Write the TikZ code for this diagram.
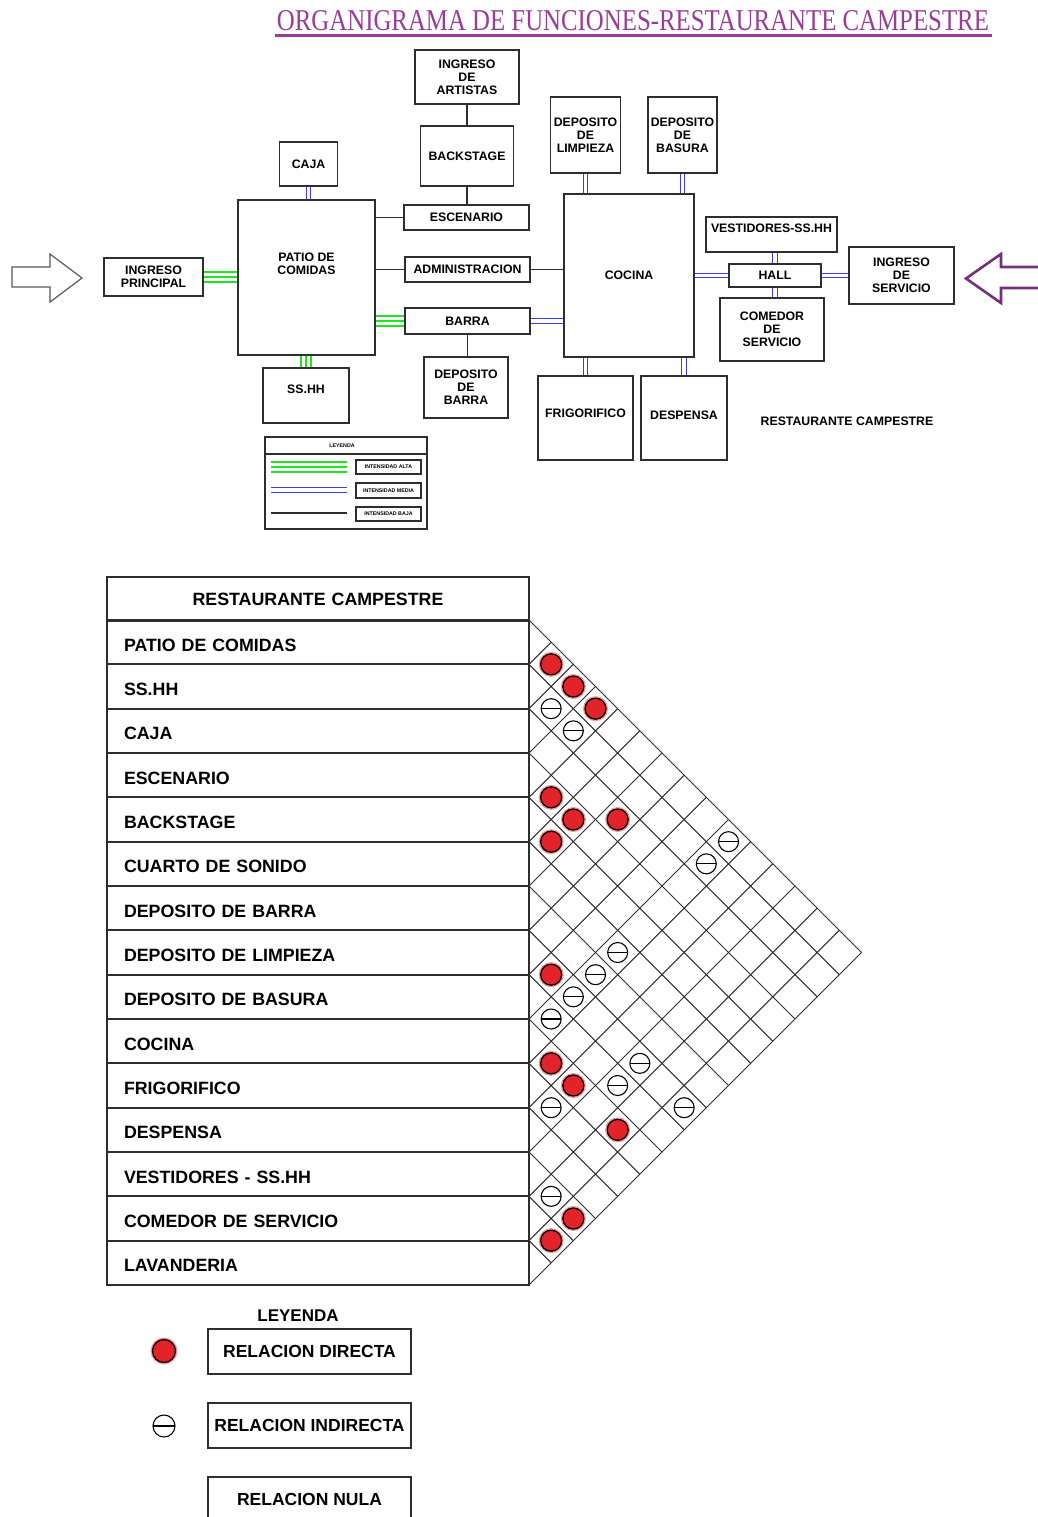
\documentclass[tikz,border=0pt]{standalone}
\usepackage{graphicx}
\usepackage{fontspec}
\setmainfont{Liberation Sans}
\newfontfamily\titlefont{Liberation Serif}
\usetikzlibrary{calc}
\definecolor{orgpurple}{HTML}{9B3A97}
\definecolor{orgarrow}{HTML}{74307A}
\definecolor{orggreen}{HTML}{1EE61E}
\definecolor{orgblue}{HTML}{3B3BFF}
\definecolor{orgred}{HTML}{E3232A}
\definecolor{orgline}{HTML}{2E2E2E}

\begin{document}
\begin{tikzpicture}[x=1pt, y=-1pt,
    room/.style={draw=orgline, line width=1.4pt, align=center, inner sep=0pt,
                 font=\bfseries\fontsize{12.3}{13}\selectfont},
    note/.style={inner sep=0pt, font=\bfseries\fontsize{12.3}{13}\selectfont},
    baja/.style={draw=orgline, line width=1.2pt},
    media/.style={draw=orgblue, line width=1.1pt, double=white, double distance=3.2pt},
    alta/.style={draw=orggreen, line width=1.7pt, double=white, double distance=8.2pt,
                 postaction={draw=orggreen, line width=1.7pt}},
    tiny/.style={draw=orgline, line width=1.1pt, minimum width=65pt, minimum height=14pt,
                 inner sep=0pt, font=\bfseries\fontsize{5.3}{6}\selectfont},
    fila/.style={draw=orgline, line width=1.8pt, minimum width=422pt, minimum height=44.33pt,
                 text width=388pt, align=left, font=\bfseries\fontsize{17.8}{19}\selectfont},
    rel/.style={draw=orgline, line width=1.6pt, minimum width=203pt, minimum height=45pt,
                font=\bfseries\fontsize{17.5}{19}\selectfont},
    grilla/.style={draw=orgline, line width=1pt},
    directa/.style={circle, fill=orgred, draw=black, line width=1.3pt, minimum size=21pt,
                    inner sep=0pt, preaction={draw=orgred!45, line width=4pt}},
    indirecta/.style={circle, fill=white, draw=black, line width=1.1pt, minimum size=20pt,
                      inner sep=0pt, path picture={\draw[line width=1.1pt]
                      (path picture bounding box.west) -- (path picture bounding box.east);}}
  ]
    \clip (0,0) rectangle (1038,1517);

    % titulo
    \node[text=orgpurple, inner sep=0pt] (titulo) at (633,21)
      {\resizebox{712pt}{20pt}{\titlefont ORGANIGRAMA DE FUNCIONES-RESTAURANTE CAMPESTRE}};
    \draw[orgpurple, line width=3pt] ([xshift=-2pt,yshift=-4pt]titulo.south west)
      -- ([xshift=3pt,yshift=-4pt]titulo.south east);

    % organigrama
    \node[room, minimum width=104pt, minimum height=54pt] (artistas)  at (467,77)    {INGRESO\\DE\\ARTISTAS};
    \node[room, minimum width=93pt,  minimum height=60pt] (backstage) at (467,156)   {BACKSTAGE};
    \node[room, minimum width=58pt,  minimum height=44pt] (caja)      at (308.5,164) {CAJA};
    \node[room, minimum width=137pt, minimum height=155pt, text depth=28pt] (patio) at (306.5,277.5) {PATIO DE\\COMIDAS};
    \node[room, minimum width=125pt, minimum height=25pt] (escenario) at (466.5,217.5) {ESCENARIO};
    \node[room, minimum width=125pt, minimum height=25pt] (admin)     at (467.5,269.5) {ADMINISTRACION};
    \node[room, minimum width=125pt, minimum height=26pt] (barra)     at (467.5,321)   {BARRA};
    \node[room, minimum width=84pt,  minimum height=61pt] (depbarra)  at (466,387.5)   {DEPOSITO\\DE\\BARRA};
    \node[room, minimum width=86pt,  minimum height=55pt, text depth=12pt] (sshh) at (306,395.5) {SS.HH};
    \node[room, minimum width=99pt,  minimum height=38pt] (principal) at (153.5,277)   {INGRESO\\PRINCIPAL};
    \node[room, minimum width=130pt, minimum height=163pt] (cocina)   at (629,275.5)   {COCINA};
    \node[room, minimum width=70pt,  minimum height=76pt] (limpieza)  at (585.5,135)   {DEPOSITO\\DE\\LIMPIEZA};
    \node[room, minimum width=69pt,  minimum height=76pt] (basura)    at (682.5,135)   {DEPOSITO\\DE\\BASURA};
    \node[room, minimum width=131pt, minimum height=35pt, text depth=12pt] (vest) at (771.5,234.5) {VESTIDORES-SS.HH};
    \node[room, minimum width=92pt,  minimum height=23pt] (hall)      at (775,275.5)   {HALL};
    \node[room, minimum width=104pt, minimum height=63pt] (comedor)   at (772,329.5)   {COMEDOR\\DE\\SERVICIO};
    \node[room, minimum width=105pt, minimum height=57pt] (servicio)  at (901.5,275.5) {INGRESO\\DE\\SERVICIO};
    \node[room, minimum width=95pt,  minimum height=84pt, text depth=10pt] (frigo) at (585.5,418) {FRIGORIFICO};
    \node[room, minimum width=86pt,  minimum height=84pt, text depth=6pt] (despensa) at (684,418) {DESPENSA};
    \node[note] (rotulo) at (847,421) {RESTAURANTE CAMPESTRE};

    \draw[media] (caja.south) -- (caja.south |- patio.north);
    \draw[alta]  (principal.east) -- (principal.east -| patio.west);
    \draw[alta]  (sshh.north |- patio.south) -- (sshh.north);
    \draw[baja]  (escenario.west -| patio.east) -- (escenario.west);
    \draw[baja]  (admin.west -| patio.east) -- (admin.west);
    \draw[alta]  (barra.west -| patio.east) -- (barra.west);
    \draw[baja]  (artistas.south) -- (artistas.south |- backstage.north);
    \draw[baja]  (backstage.south) -- (backstage.south |- escenario.north);
    \draw[baja]  (barra.south) -- (barra.south |- depbarra.north);
    \draw[baja]  (admin.east) -- (admin.east -| cocina.west);
    \draw[media] (barra.east) -- (barra.east -| cocina.west);
    \draw[media] (limpieza.south) -- (limpieza.south |- cocina.north);
    \draw[media] (basura.south) -- (basura.south |- cocina.north);
    \draw[media] (frigo.north |- cocina.south) -- (frigo.north);
    \draw[media] (despensa.north |- cocina.south) -- (despensa.north);
    \draw[media] (cocina.east |- hall.west) -- (hall.west);
    \draw[media] (hall.east) -- (hall.east -| servicio.west);
    \draw[media] (hall.north) -- (hall.north |- vest.south);
    \draw[media] (hall.south) -- (hall.south |- comedor.north);

    % flechas de ingreso
    \draw[draw=orgline!80, line width=1.2pt]
      (12,267) -- (50,267) -- (50,254) -- (82,278) -- (50,302) -- (50,287) -- (12,287) -- cycle;
    \draw[draw=orgarrow, line width=2.6pt]
      (1045,267) -- (1001,267) -- (1001,254) -- (966,278.5) -- (1001,303) -- (1001,288) -- (1045,288);

    % leyenda de intensidad
    \draw[baja] (265,437) rectangle (427,529);
    \draw[baja] (265,454) -- (427,454);
    \node[inner sep=0pt, font=\bfseries\fontsize{5.3}{6}\selectfont] (leytop) at (342,446) {LEYENDA};
    \node[tiny] (ialta)  at (388.5,467)   {INTENSIDAD ALTA};
    \node[tiny, minimum height=15pt] (imedia) at (388.5,490.5) {INTENSIDAD MEDIA};
    \node[tiny] (ibaja)  at (388.5,514)   {INTENSIDAD BAJA};
    \draw[alta]  (271,467) -- (347,467);
    \draw[media] (271,490) -- (347,490);
    \draw[baja]  (271,513) -- (347,513);

    % matriz de relaciones
    \node[fila, align=center] (cab) at (318,599) {RESTAURANTE CAMPESTRE};
    \foreach \n/\t in {1/PATIO DE COMIDAS, 2/SS.HH, 3/CAJA, 4/ESCENARIO, 5/BACKSTAGE,
                       6/CUARTO DE SONIDO, 7/DEPOSITO DE BARRA, 8/DEPOSITO DE LIMPIEZA,
                       9/DEPOSITO DE BASURA, 10/COCINA, 11/FRIGORIFICO, 12/DESPENSA,
                       13/VESTIDORES - SS.HH, 14/COMEDOR DE SERVICIO, 15/LAVANDERIA}
      \node[fila, text height=18pt, text depth=0pt] (f\n) at (318,{620+44.333*(\n-0.5)}) {\t};

    \foreach \k in {0,...,15} {
      \pgfmathsetmacro\yk{620+44.333*\k}
      \pgfmathsetmacro\tb{(1285-\yk)/2}
      \pgfmathsetmacro\ta{(\yk-620)/2}
      \draw[grilla] (529,\yk) -- ++(\tb,\tb);
      \draw[grilla] (529,\yk) -- ++(\ta,-\ta);
    }

    \foreach \i/\j in {1/2, 1/3, 1/4, 4/5, 4/6, 3/7, 5/6, 8/9, 10/11, 10/12, 10/14, 13/15, 14/15}
      \node[directa] (d\i-\j) at ({529+(\j-\i)*22.167},{620+(\i+\j-1)*22.167}) {};
    \foreach \i/\j in {2/3, 2/4, 1/10, 2/10, 6/10, 7/10, 8/10, 9/10, 8/13, 9/13, 11/12, 8/15, 13/14}
      \node[indirecta] (n\i-\j) at ({529+(\j-\i)*22.167},{620+(\i+\j-1)*22.167}) {};

    % leyenda de relaciones
    \node[inner sep=0pt, font=\bfseries\fontsize{17}{19}\selectfont] (leyenda) at (298,1316) {LEYENDA};
    \node[rel] (rdir) at (309.5,1351.5) {RELACION DIRECTA};
    \node[rel] (rind) at (309.5,1425.5) {RELACION INDIRECTA};
    \node[rel] (rnul) at (309.5,1499.5) {RELACION NULA};
    \node[directa, minimum size=23pt] (sdir) at (164,1351) {};
    \node[indirecta, minimum size=22pt] (sind) at (164,1426) {};
  \end{tikzpicture}
\end{document}
